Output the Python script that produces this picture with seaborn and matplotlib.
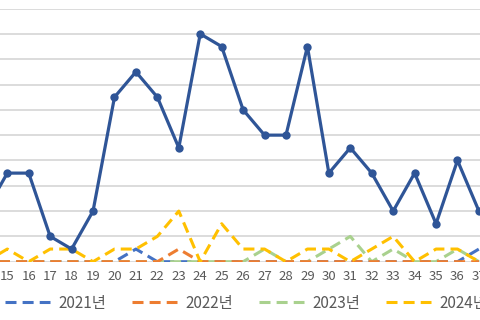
import matplotlib
matplotlib.use("Agg")
import matplotlib.pyplot as plt
import seaborn as sns
import pandas as pd

sns.set_theme(style="white")
plt.rcParams['font.family'] = ['Noto Sans CJK KR', 'DejaVu Sans']

weeks = list(range(14, 38))
y2021 = [0, 0, 0, 0, 0, 0, 0, 1, 0, 0, 0, 0, 0, 0, 0, 0, 0, 0, 0, 0, 0, 0, 0, 1]
y2022 = [0, 0, 0, 0, 0, 0, 0, 0, 0, 1, 0, 0, 0, 0, 0, 0, 0, 0, 0, 0, 0, 0, 0, 0]
y2023 = [0, 0, 0, 0, 0, 0, 0, 0, 0, 0, 0, 0, 0, 1, 0, 0, 1, 2, 0, 1, 0, 0, 1, 0]
y2024 = [0, 1, 0, 1, 1, 0, 1, 1, 2, 4, 0, 3, 1, 1, 0, 1, 1, 0, 1, 2, 0, 1, 1, 0]
y2025 = [4, 7, 7, 2, 1, 4, 13, 15, 13, 9, 18, 17, 12, 10, 10, 17, 7, 9, 7, 4, 7, 3, 8, 4]
labels = ["2021년", "2022년", "2023년", "2024년", "2025년"]
tick_weeks = list(range(15, 38))

series = [y2021, y2022, y2023, y2024, y2025]
colors = ["#4472C4", "#ED7D31", "#A9D18E", "#FFC000", "#2F5597"]
zorders = [3, 5, 4, 6, 8]

fig = plt.figure(figsize=(4.8, 3.2), dpi=100)
ax = fig.add_axes([0, 0.1822, 1, 0.791])

for vals, lab, col, z in zip(series, labels, colors, zorders):
    df = pd.DataFrame({"week": weeks, "value": vals})
    if lab == "2025년":
        sns.lineplot(data=df, x="week", y="value", ax=ax, color=col, lw=2.3,
                     marker="o", markersize=6, markeredgewidth=0,
                     label=lab, zorder=z)
    else:
        sns.lineplot(data=df, x="week", y="value", ax=ax, color=col, lw=2.2,
                     linestyle=(0, (3.6, 2.0)), label=lab, zorder=z)

ax.set_xlim(14.66, 37.05)
ax.set_ylim(0, 20)
ax.set_yticks(range(0, 21, 2))
ax.set_yticklabels([])
ax.set_xticks(tick_weeks)
ax.set_xticklabels([str(w) for w in tick_weeks])
ax.tick_params(axis="x", length=0, pad=6, labelsize=9.5, labelcolor="#595959")
ax.tick_params(axis="y", length=0)
ax.grid(axis="y", color="#d9d9d9", linewidth=1.3)
ax.grid(axis="x", visible=False)
ax.set_axisbelow(True)
for s in ax.spines.values():
    s.set_visible(False)
ax.set_xlabel("")
ax.set_ylabel("")

handles, labs = ax.get_legend_handles_labels()
ax.get_legend().remove()
fig.legend(handles, labs, loc="center left", bbox_to_anchor=(0.01, 0.053),
           ncol=5, frameon=False, fontsize=11, handlelength=2.95,
           handletextpad=0.55, columnspacing=1.7, borderpad=0, borderaxespad=0,
           labelcolor="#595959")

fig.savefig("out.png", dpi=100)
